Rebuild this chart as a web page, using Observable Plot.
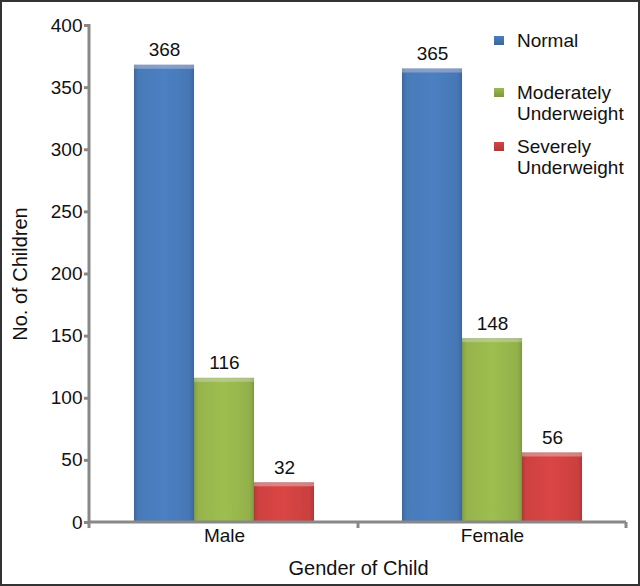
<!DOCTYPE html>
<html>
<head>
<meta charset="utf-8">
<script src="https://cdn.jsdelivr.net/npm/d3@7"></script>
<script src="https://cdn.jsdelivr.net/npm/@observablehq/plot@0.6"></script>
<style>
  body { margin: 0; background: #fff; }
  #wrap { position: relative; width: 640px; height: 586px; font-family: "Liberation Sans", Arial, sans-serif; }
  #border { position: absolute; left: 0; top: 0; width: 640px; height: 586px; box-sizing: border-box; border: 2px solid #333; pointer-events: none; }
  #legend { position: absolute; left: 493px; top: 30px; font-size: 19px; color: #111; line-height: 21px; }
  .item { position: relative; padding-left: 24px; }
  .sw { position: absolute; left: 1px; top: 6px; width: 10px; height: 9px; }
</style>
</head>
<body>
<div id="wrap"><div id="border"></div></div>
<script>
const genders = ["Male", "Female"];
const categories = ["Normal", "Moderately Underweight", "Severely Underweight"];
const legendLines = [["Normal"], ["Moderately", "Underweight"], ["Severely", "Underweight"]];
const normalVals = [368, 365];
const moderateVals = [116, 148];
const severeVals = [32, 56];
const yTicks = [0, 50, 100, 150, 200, 250, 300, 350, 400];
const colors = ["#4a7ebf", "#9bbb4f", "#d64443"];
const gradIds = ["gN", "gM", "gS"];

const series = [normalVals, moderateVals, severeVals];
const data = [];
genders.forEach((g, gi) => categories.forEach((c, ci) => data.push({gender: g, category: c, value: series[ci][gi], ci})));

const font = "Liberation Sans, Arial, sans-serif";
const plot = Plot.plot({
  width: 640, height: 586,
  marginLeft: 89, marginRight: 14, marginTop: 25, marginBottom: 64,
  style: {fontFamily: font, fontSize: "19px", color: "#111", background: "transparent"},
  fx: {domain: genders, paddingInner: 0, paddingOuter: 0, label: null},
  x: {domain: categories, paddingInner: 0, paddingOuter: 0.733, axis: null},
  y: {domain: [0, 400]},
  marks: [
    ...categories.map((c, ci) => Plot.barY(data.filter(d => d.ci === ci), {fx: "gender", x: "category", y: "value", fill: `url(#${gradIds[ci]})`, stroke: "#00000022", strokeWidth: 0.5, className: "bevelbar"})),
    Plot.text(data, {fx: "gender", x: "category", y: "value", text: d => String(d.value), lineAnchor: "bottom", dy: -9, fontSize: 19, fill: "#111"}),
    Plot.axisY({ticks: yTicks, tickSize: 6, tickPadding: 2, stroke: "#888", strokeWidth: 3, fontSize: 19, label: null}),
    Plot.axisY({ticks: [], tickSize: 0, label: "No. of Children", labelAnchor: "center", labelArrow: "none", labelOffset: 78, fontSize: 20}),
    Plot.axisFx({anchor: "bottom", tickSize: 0, tickPadding: 6, fontSize: 19, label: null}),
    Plot.axisFx({anchor: "bottom", ticks: [], tickSize: 0, label: "Gender of Child", labelAnchor: "center", labelArrow: "none", labelOffset: 52, fontSize: 20})
  ]
});
document.getElementById("wrap").prepend(plot);

const svg = d3.select(plot);
const defs = svg.insert("defs", ":first-child");
colors.forEach((col, i) => {
  const c = d3.color(col);
  const g = defs.append("linearGradient").attr("id", gradIds[i]).attr("x1", "0").attr("x2", "1").attr("y1", "0").attr("y2", "0");
  g.append("stop").attr("offset", "0%").attr("stop-color", c.darker(0.45));
  g.append("stop").attr("offset", "8%").attr("stop-color", c.darker(0.1));
  g.append("stop").attr("offset", "50%").attr("stop-color", c.brighter(0.05));
  g.append("stop").attr("offset", "92%").attr("stop-color", c.darker(0.15));
  g.append("stop").attr("offset", "100%").attr("stop-color", c.darker(0.5));
});
const f = defs.append("filter").attr("id", "bevel").attr("x", "-5%").attr("y", "-5%").attr("width", "110%").attr("height", "110%");
f.append("feOffset").attr("in", "SourceAlpha").attr("dy", 4).attr("result", "off");
f.append("feComposite").attr("in", "SourceAlpha").attr("in2", "off").attr("operator", "out").attr("result", "strip");
f.append("feFlood").attr("flood-color", "#ffffff").attr("flood-opacity", 0.18).attr("result", "white");
f.append("feComposite").attr("in", "white").attr("in2", "strip").attr("operator", "in").attr("result", "hl");
const m = f.append("feMerge");
m.append("feMergeNode").attr("in", "SourceGraphic");
m.append("feMergeNode").attr("in", "hl");
svg.selectAll(".bevelbar rect").attr("filter", "url(#bevel)");

// axis lines drawn from the plot's scales
const ys = plot.scale("y"), fxs = plot.scale("fx");
const y0 = ys.apply(0), yTop = ys.apply(400);
const left = 89, right = 640 - 14;
const ax = svg.append("g").attr("stroke", "#888").attr("stroke-width", 3);
ax.append("line").attr("x1", left).attr("x2", left).attr("y1", yTop - 1).attr("y2", y0 + 1);
ax.append("line").attr("x1", left).attr("x2", right).attr("y1", y0).attr("y2", y0);
const bounds = [left, ...genders.map(g => fxs.apply(g) + fxs.bandwidth)];
bounds.forEach(b => ax.append("line").attr("x1", b).attr("x2", b).attr("y1", y0).attr("y2", y0 + 6));

// legend
const lg = d3.select("#wrap").append("div").attr("id", "legend");
legendLines.forEach((lines, i) => {
  const it = lg.append("div").attr("class", "item").style("margin-bottom", i === 0 ? "31px" : "12px");
  it.append("div").attr("class", "sw").style("background", `linear-gradient(${colors[i]}, ${d3.color(colors[i]).darker(0.6)})`);
  lines.forEach(l => it.append("div").text(l));
});
</script>
</body>
</html>
